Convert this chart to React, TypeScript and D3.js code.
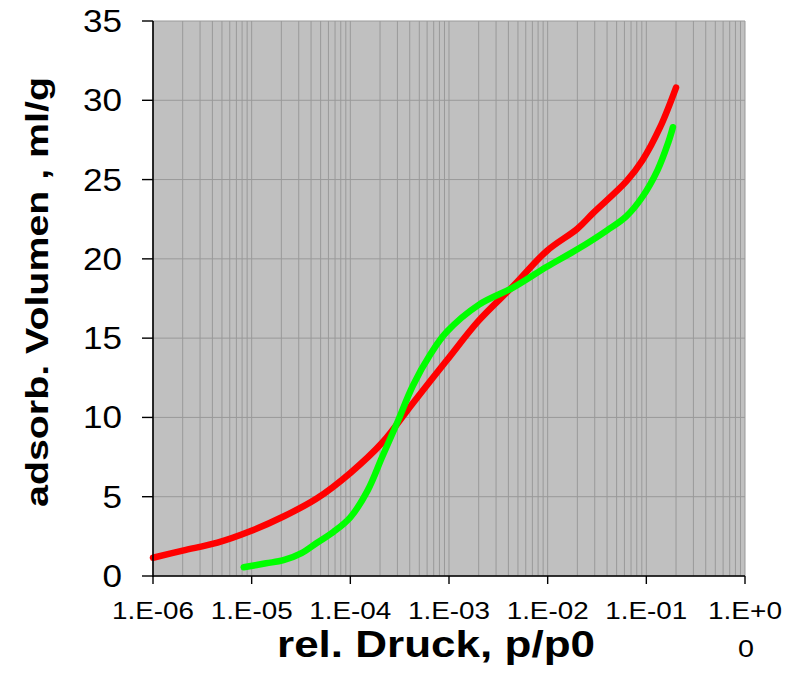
import React from "react";
import * as d3 from "d3";

// Relative pressure p/p0 and adsorbed volume (ml/g) for the two isotherms
const redPressure = [
  1.0e-6, 2.0e-6, 4.5e-6, 9.5e-6, 2.1e-5, 4.6e-5, 1.0e-4, 2.1e-4, 4.3e-4, 9.5e-4,
  2.0e-3, 4.5e-3, 9.8e-3, 0.02, 0.029, 0.063, 0.091, 0.138, 0.2,
];
const redVolume = [
  1.15, 1.6, 2.1, 2.8, 3.75, 4.9, 6.5, 8.4, 10.9, 13.6,
  16.1, 18.3, 20.5, 21.9, 22.9, 24.9, 26.2, 28.3, 30.8,
];
const greenPressure = [
  8.3e-6, 1.4e-5, 2.1e-5, 3.2e-5, 4.6e-5, 6.8e-5, 1.0e-4, 1.5e-4, 2.1e-4, 3.0e-4,
  4.3e-4, 6.5e-4, 9.5e-4, 2.0e-3, 4.5e-3, 9.8e-3, 0.02, 0.04, 0.063, 0.091,
  0.13, 0.166, 0.186,
];
const greenVolume = [
  0.55, 0.8, 1.0, 1.45, 2.1, 2.8, 3.7, 5.4, 7.5, 9.7,
  12.0, 14.0, 15.4, 17.1, 18.2, 19.5, 20.6, 21.8, 22.7, 23.9,
  25.6, 27.3, 28.3,
];

const xTickValues = [1e-6, 1e-5, 1e-4, 1e-3, 1e-2, 1e-1, 1];
const xTickLabels = ["1.E-06", "1.E-05", "1.E-04", "1.E-03", "1.E-02", "1.E-01", "1.E+0"];
const yTickValues = [0, 5, 10, 15, 20, 25, 30, 35];

const xTitle = "rel. Druck, p/p0";
const yTitle = "adsorb. Volumen , ml/g";

const W = 791;
const H = 676;
const FONT = "'Liberation Sans', Arial, Helvetica, sans-serif";

export default function App() {
  const x = d3.scaleLog().domain([1e-6, 1]).range([153, 745]);
  const y = d3.scaleLinear().domain([0, 35]).range([576, 21]);

  // minor vertical grid: 1..9 × each decade
  const minorX: number[] = [];
  for (let e = -6; e < 0; e++) {
    for (let k = 1; k <= 9; k++) minorX.push(k * Math.pow(10, e));
  }
  minorX.push(1);

  const line = d3
    .line<[number, number]>()
    .x((d) => x(d[0]))
    .y((d) => y(d[1]))
    .curve(d3.curveCatmullRom.alpha(0.5));

  const redPts = redPressure.map((p, i) => [p, redVolume[i]] as [number, number]);
  const greenPts = greenPressure.map((p, i) => [p, greenVolume[i]] as [number, number]);

  const [x0, x1] = x.range();
  const [y0, y1] = y.range();

  return (
    <svg
      width={W}
      height={H}
      style={{ position: "absolute", left: 0, top: 0, display: "block", background: "#fff" }}
      fontFamily={FONT}
    >
      <rect x={x0} y={y1} width={x1 - x0} height={y0 - y1} fill="#c0c0c0" />
      {minorX.map((v, i) => (
        <line key={"gx" + i} x1={x(v)} x2={x(v)} y1={y1} y2={y0} stroke="#999" strokeWidth={1} />
      ))}
      {yTickValues.map((v) => (
        <line key={"gy" + v} x1={x0} x2={x1} y1={y(v)} y2={y(v)} stroke="#999" strokeWidth={1} />
      ))}

      <path d={line(redPts) || ""} fill="none" stroke="#ff0000" strokeWidth={6.5} strokeLinecap="round" strokeLinejoin="round" />
      <path d={line(greenPts) || ""} fill="none" stroke="#00ff00" strokeWidth={6.5} strokeLinecap="round" strokeLinejoin="round" />

      {/* axes */}
      <line x1={x0} x2={x0} y1={y1} y2={y0 + 1} stroke="#000" strokeWidth={1.6} />
      <line x1={x0} x2={x1} y1={y0} y2={y0} stroke="#000" strokeWidth={1.6} />
      {yTickValues.map((v) => (
        <g key={"yt" + v}>
          <line x1={x0 - 11} x2={x0} y1={y(v)} y2={y(v)} stroke="#000" strokeWidth={1.4} />
          <text
            x={122}
            y={y(v) + 11}
            textAnchor="end"
            fontSize={31}
            textLength={String(v).length * 19.5}
            lengthAdjust="spacingAndGlyphs"
          >
            {v}
          </text>
        </g>
      ))}
      {xTickValues.map((v, i) => {
        const label = xTickLabels[i];
        const last = i === xTickValues.length - 1;
        return (
          <g key={"xt" + i}>
            <line x1={x(v)} x2={x(v)} y1={y0} y2={y0 + 8} stroke="#000" strokeWidth={1.4} />
            <text
              x={x(v)}
              y={619}
              textAnchor="middle"
              fontSize={23}
              textLength={last ? 74 : 82}
              lengthAdjust="spacingAndGlyphs"
            >
              {label}
            </text>
            {last && (
              <text x={x(v) + 1} y={657} textAnchor="middle" fontSize={24} textLength={16} lengthAdjust="spacingAndGlyphs">
                0
              </text>
            )}
          </g>
        );
      })}

      <text
        x={436}
        y={657}
        textAnchor="middle"
        fontSize={36}
        fontWeight="bold"
        textLength={318}
        lengthAdjust="spacingAndGlyphs"
      >
        {xTitle}
      </text>
      <text
        transform="translate(48,292) rotate(-90)"
        textAnchor="middle"
        fontSize={32}
        fontWeight="bold"
        textLength={430}
        lengthAdjust="spacingAndGlyphs"
      >
        {yTitle}
      </text>
    </svg>
  );
}
